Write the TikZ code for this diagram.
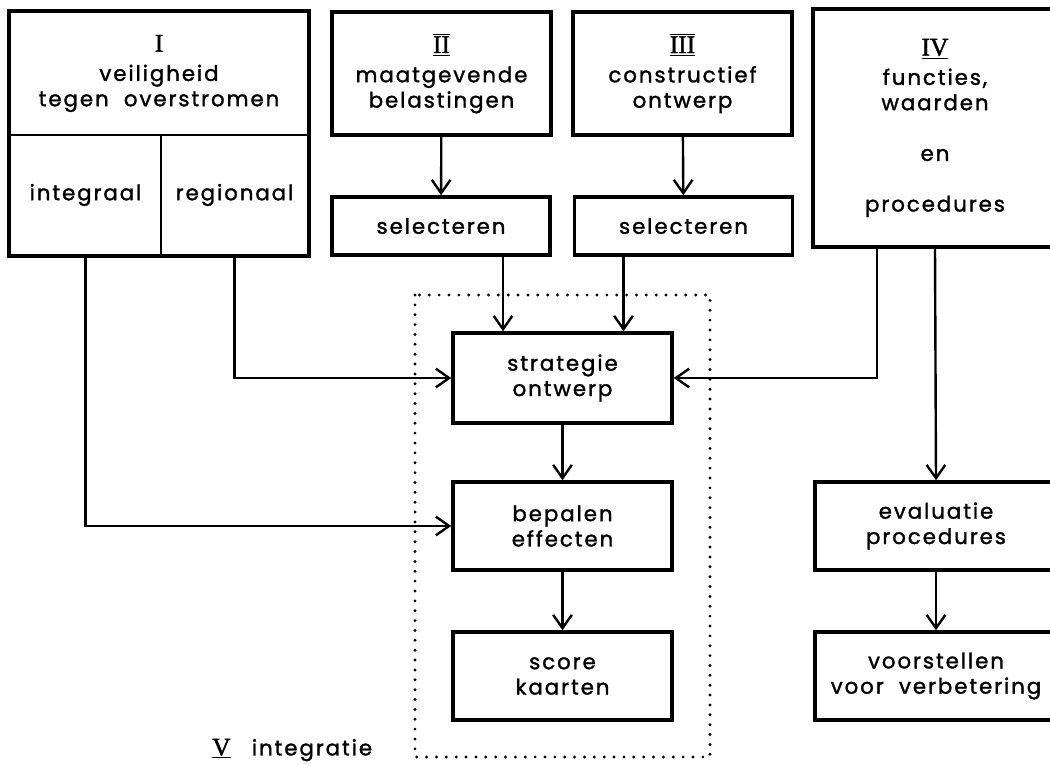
\documentclass[tikz,border=0pt]{standalone}
\usepackage{fontspec}
\setmainfont{Poppins}[LetterSpace=9,FakeBold=1.4]
\newfontfamily\romfont{Liberation Serif}[FakeBold=1.5]
\newcommand\romnum[1]{{\romfont\fontsize{19}{19}\selectfont #1}}
\newcommand\rombar[1]{$\overline{\underline{\mbox{\romnum{#1}}}}$}
\usetikzlibrary{arrows.meta}

\begin{document}
\begin{tikzpicture}[x=0.75pt,y=-0.75pt,
    txt/.style={align=center,inner sep=0pt,font=\fontsize{16}{19}\selectfont},
    box/.style={txt,draw,line width=2.6pt},
    part/.style={txt,draw,line width=1.5pt},
    arr/.style={line width=1.8pt,-{Straight Barb[length=10pt,width=14pt,line width=1.8pt]}},
    frame/.style={line width=2.4pt,line cap=round,dash pattern=on 0pt off 7.4pt}]
  \useasboundingbox (0,0) rectangle (1050,764);
  \node [part,minimum width=223.5pt,minimum height=92.25pt] (veilig) at (159,73.5)
     {\romnum{I}\\[3pt]veiligheid\\tegen\ \ overstromen};
  \node [part,minimum width=113.25pt,minimum height=90pt] (integraal) at (85.5,195) {integraal};
  \node [part,minimum width=110.25pt,minimum height=90pt] (regionaal) at (234.5,195) {regionaal};
  \draw [line width=2.6pt] (veilig.north west) rectangle (regionaal.south east);
  \node [box,minimum width=164.25pt,minimum height=92.25pt] (belast) at (441.5,73.5)
     {\rombar{II}\\[3pt]maatgevende\\belastingen};
  \node [box,minimum width=164.25pt,minimum height=92.25pt] (constr) at (682.5,73.5)
     {\rombar{III}\\[3pt]constructief\\ontwerp};
  \node [box,minimum width=183pt,minimum height=178.5pt] (functies) at (935,128)
     {$\underline{\mbox{\romnum{IV}}}$\\[3pt]functies,\\waarden\\[19pt]en\\[19pt]procedures};
  \node [box,minimum width=163.5pt,minimum height=43.5pt] (sel1) at (441,226) {selecteren};
  \node [box,minimum width=163.5pt,minimum height=43.5pt] (sel2) at (683.5,226) {selecteren};
  \node [box,minimum width=164.25pt,minimum height=67.5pt] (strategie) at (562.5,378) {strategie\\ontwerp};
  \node [box,minimum width=164.25pt,minimum height=66pt] (effecten) at (562.5,526) {bepalen\\effecten};
  \node [box,minimum width=164.25pt,minimum height=66pt] (score) at (562.5,676) {score\\kaarten};
  \node [box,minimum width=181.5pt,minimum height=66pt] (evaluatie) at (936,526) {evaluatie\\procedures};
  \node [box,minimum width=181.5pt,minimum height=66pt] (verbeter) at (936,676) {voorstellen\\voor\ \ verbetering};
  \draw [frame] (415,295) rectangle (710,757);
  \node [txt,anchor=west] (integratie) at (212,750) {$\underline{\mbox{\romnum{V}}}$\quad integratie};
  \path (sel1.south) ++(62,0) coordinate (s1)
        (sel2.south) ++(-60,0) coordinate (s2)
        (functies.south) ++(-58,0) coordinate (f1);
  \draw [arr] (belast) -- (sel1);
  \draw [arr] (constr) -- (sel2);
  \draw [arr] (s1) -- (s1 |- strategie.north);
  \draw [arr] (s2) -- (s2 |- strategie.north);
  \draw [arr] (regionaal.south) |- (strategie.west);
  \draw [arr] (integraal.south) |- (effecten.west);
  \draw [arr] (f1) |- (strategie.east);
  \draw [arr] (functies.south) -- (evaluatie.north);
  \draw [arr] (strategie) -- (effecten);
  \draw [arr] (effecten) -- (score);
  \draw [arr] (evaluatie) -- (verbeter);
\end{tikzpicture}
\end{document}
